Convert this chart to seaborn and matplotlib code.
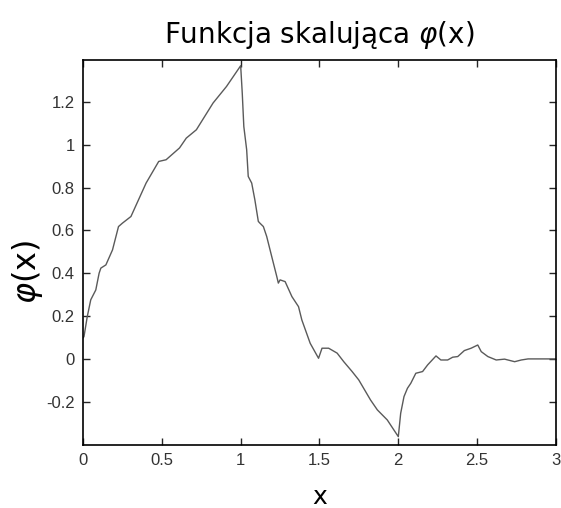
import numpy as np
import pandas as pd
import matplotlib.pyplot as plt
import seaborn as sb

# Points
x_vals = [0.0, 0.006, 0.027, 0.049, 0.081, 0.102, 0.113, 0.145, 0.187, 0.225, 0.25,
          0.304, 0.4, 0.48, 0.527, 0.612, 0.655, 0.719, 0.825, 0.91, 1.0,
          1.01, 1.02, 1.038, 1.048, 1.07, 1.09, 1.112, 1.122, 1.144, 1.165,
          1.197, 1.229, 1.239, 1.25, 1.282, 1.325, 1.367, 1.388, 1.441, 1.494,
          1.516, 1.558, 1.612, 1.654, 1.707, 1.749, 1.824, 1.867, 1.93, 2.0,
          2.015, 2.036, 2.058, 2.079, 2.111, 2.154, 2.186, 2.239, 2.27, 2.313,
          2.345, 2.377, 2.419, 2.462, 2.504, 2.526, 2.568, 2.621, 2.674, 2.738,
          2.78, 2.823, 3.0]
phi_vals = [0.098, 0.104, 0.198, 0.276, 0.322, 0.40, 0.424, 0.439, 0.509, 0.618, 0.634,
            0.665, 0.821, 0.922, 0.93, 0.985, 1.031, 1.07, 1.195, 1.272, 1.369,
            1.242, 1.085, 0.977, 0.852, 0.821, 0.743, 0.642, 0.634, 0.618, 0.572,
            0.478, 0.385, 0.354, 0.369, 0.361, 0.291, 0.244, 0.182, 0.073, 0.003,
            0.05, 0.05, 0.027, -0.013, -0.059, -0.098, -0.192, -0.238, -0.285, -0.363,
            -0.254, -0.176, -0.137, -0.114, -0.067, -0.059, -0.028, 0.014, -0.005, -0.005,
            0.008, 0.011, 0.039, 0.05, 0.065, 0.034, 0.011, -0.005, -0.001, -0.013,
            -0.005, 0.0, 0.0]
x_ticks = [0, 0.5, 1, 1.5, 2, 2.5, 3]
x_labels = ['0', '0.5', '1', '1.5', '2', '2.5', '3']
y_ticks = [-0.2, 0, 0.2, 0.4, 0.6, 0.8, 1, 1.2]
y_labels = ['-0.2', '0', '0.2', '0.4', '0.6', '0.8', '1', '1.2']

df = pd.DataFrame({'x': x_vals, 'phi': phi_vals})

sb.set_style('ticks')
plt.rcParams['font.family'] = ['DejaVu Sans']
plt.rcParams['axes.unicode_minus'] = False

fig = plt.figure(figsize=(5.61, 5.08), dpi=100)
ax = fig.add_axes([0.148, 0.124, 0.843, 0.758])
sb.lineplot(data=df, x='x', y='phi', estimator=None, sort=False,
            color='#5a5a5a', linewidth=1.0, ax=ax)

ax.set_xlim(0, 3)
ax.set_ylim(-0.402, 1.396)
ax.set_xticks(x_ticks)
ax.set_xticklabels(x_labels, family='Liberation Sans', fontsize=12, color='#333333')
ax.set_yticks(y_ticks)
ax.set_yticklabels(y_labels, family='Liberation Sans', fontsize=12, color='#333333')
ax.tick_params(direction='in', length=5, width=1, top=True, right=True, pad=6)
for s in ax.spines.values():
    s.set_color('black')
    s.set_linewidth(1.2)

ax.set_title('Funkcja skalująca $\\varphi$(x)', fontsize=20, pad=12, color='black')
ax.set_xlabel('x', fontsize=18, labelpad=12, color='black')
ax.set_ylabel('$\\varphi$(x)', fontsize=23, color='black')
ax.yaxis.set_label_coords(-0.08, 0.45)

fig.savefig('out.png', dpi=100)
